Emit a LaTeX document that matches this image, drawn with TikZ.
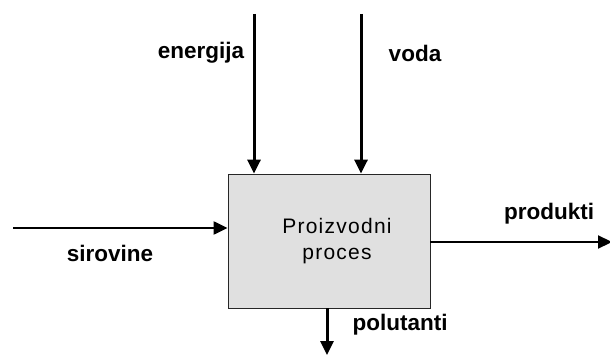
\documentclass[tikz,border=0pt]{standalone}
\usepackage{fontspec}
\setmainfont{Liberation Sans}
\usepackage{tikz}
\usetikzlibrary{arrows.meta}

\tikzset{
  tok/.style={line width=2.2pt, -{Triangle[length=14pt,width=13pt]}},
  ulaz/.style={tok, line width=3pt},
  lbl/.style={font=\fontsize{22.5}{26}\selectfont\bfseries, inner sep=0pt},
}

\begin{document}
\begin{tikzpicture}[x=1pt, y=-1pt]
      \useasboundingbox (0,0) rectangle (610,358);

      \node[draw=black!85, fill=black!12, line width=0.8pt, minimum width=202pt, minimum height=134pt,
            inner sep=0pt] (proces) at (329,241) {};
      \node[font=\fontsize{21}{26}\addfontfeature{LetterSpace=6}\selectfont, align=center,
            inner sep=0pt] (naziv) at (337,241) {Proizvodni\\proces};

      \coordinate (sirovineIn) at (13,228);
      \coordinate (energijaIn) at (254,14);
      \coordinate (vodaIn) at (361,14);
      \coordinate (produktiOut) at (612,242);
      \coordinate (polutantiOut) at (327,355);

      \draw[tok] (sirovineIn) -- (sirovineIn -| proces.west);
      \draw[ulaz] (energijaIn) -- (energijaIn |- proces.north);
      \draw[ulaz] (vodaIn) -- (vodaIn |- proces.north);
      \draw[tok] (produktiOut -| proces.east) -- (produktiOut);
      \draw[ulaz] (polutantiOut |- proces.south) -- (polutantiOut);

      \node[lbl] (sirovine) at (110,253) {sirovine};
      \node[lbl] (energija) at (201,53) {energija};
      \node[lbl] (voda) at (415,53) {voda};
      \node[lbl] (produkti) at (549,214) {produkti};
      \node[lbl] (polutanti) at (400,325) {polutanti};

\end{tikzpicture}
\end{document}
